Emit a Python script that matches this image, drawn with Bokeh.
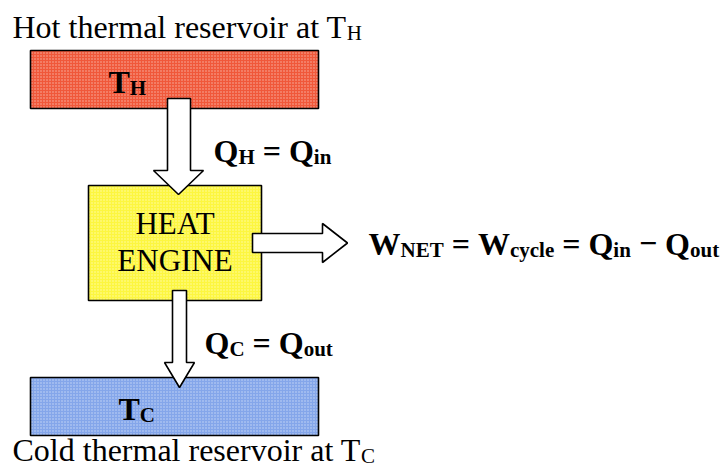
from bokeh.plotting import figure
from bokeh.models import Range1d
from bokeh.core.properties import value
from bokeh.embed import file_html
from bokeh.resources import INLINE

# ---- content ----
hot_title = [("Hot thermal reservoir at T", "n", 0), ("H", "ns", 0)]
cold_title = [("Cold thermal reservoir at T", "n", 0), ("C", "ns", 0)]
hot_label = [("T", "b", 0), ("H", "bs", 0)]
cold_label = [("T", "b", 0), ("C", "bs", 0)]
engine_lines = ["HEAT", "ENGINE"]
qh_label = [("Q", "b", 0), ("H", "bs", 0), (" = ", "b", 0), ("Q", "b", 0), ("in", "bs", 0)]
qc_label = [("Q", "b", 0), ("C", "bs", 0), (" = ", "b", 0), ("Q", "b", 0), ("out", "bs", 0)]
w_label = [("W", "b", 0), ("NET", "bs", 0), (" = ", "b", 0), ("W", "b", 0), ("cycle", "bs", 0),
           (" = ", "b", 0), ("Q", "b", 0), ("in", "bs", 0), (" \u2212 ", "b", 0), ("Q", "b", 0), ("out", "bs", 0)]

# ---- layout (image pixel coordinates) ----
hot_box = dict(left=30, right=318, top=50, bottom=108)
engine_box = dict(left=88, right=261, top=185, bottom=300)
cold_box = dict(left=30, right=318, top=377, bottom=435)

arrow_in_x = [167, 190, 190, 203, 178, 153, 167]
arrow_in_y = [98, 98, 170, 170, 194, 170, 170]
arrow_w_x = [252, 322, 322, 347, 322, 322, 252]
arrow_w_y = [233, 233, 223, 242.5, 262, 252, 252]
arrow_out_x = [172, 186, 186, 194, 179, 164, 172]
arrow_out_y = [290, 290, 362, 362, 387, 362, 362]

FONT = "Liberation Serif"
MAIN = 32
SUB = 21
SUB_DY = 3
BASE_FIX = 0.31  # upward correction of the rendered baseline, fraction of font size

W_REG = {' ': 250, 'H': 722, 'o': 500, 't': 278, 'h': 500, 'e': 444, 'r': 333, 'm': 778,
         'a': 444, 'l': 278, 's': 389, 'v': 500, 'i': 278, 'C': 667, 'd': 500, 'T': 611,
         'E': 611, 'A': 722, 'N': 722, 'G': 722, 'I': 333}
W_BOLD = {' ': 250, 'Q': 778, 'H': 778, '=': 570, 'i': 278, 'n': 556, 'W': 1000, 'N': 722,
          'E': 667, 'T': 667, 'c': 444, 'y': 500, 'l': 278, 'e': 444, '\u2212': 570,
          'o': 500, 'u': 556, 't': 333, 'C': 722}


def text_width(s, size, bold):
    table = W_BOLD if bold else W_REG
    return sum(table.get(ch, 500) for ch in s) * size / 1000.0


p = figure(width=720, height=469, x_range=Range1d(0, 720), y_range=Range1d(469, 0),
           output_backend="svg", toolbar_location=None, min_border=0,
           x_axis_location=None, y_axis_location=None)
p.grid.visible = False
p.outline_line_color = None
p.background_fill_color = "white"
p.border_fill_color = "white"


def box(b, color):
    p.quad(left=[b["left"]], right=[b["right"]], top=[b["top"]], bottom=[b["bottom"]],
           fill_color=color, line_color="black", line_width=1.6,
           hatch_pattern="dot", hatch_color="white", hatch_alpha=0.55, hatch_scale=3,
           hatch_weight=1)


box(hot_box, "#f0583a")
box(engine_box, "#fcf640")
box(cold_box, "#84a6ea")

for xs, ys in [(arrow_in_x, arrow_in_y), (arrow_w_x, arrow_w_y), (arrow_out_x, arrow_out_y)]:
    p.patch(x=xs, y=ys, fill_color="white", line_color="black", line_width=1.6)


def put_text(x, y, txt, size, bold, align="left"):
    p.text(x=[x], y=[y - BASE_FIX * size], text=[txt],
           text_font=value(FONT), text_font_size=f"{size}px",
           text_font_style="bold" if bold else "normal",
           text_baseline="alphabetic", text_align=align, text_color="black")


def draw_runs(runs, x0, y0):
    x = x0
    for txt, kind, _ in runs:
        bold = kind.startswith("b")
        sub = kind.endswith("s")
        size = SUB if sub else MAIN
        lead = len(txt) - len(txt.lstrip(" "))
        core = txt.strip(" ")
        xx = x + text_width(" " * lead, size, bold)
        put_text(xx, y0 + (SUB_DY if sub else 0), core, size, bold)
        x += text_width(txt, size, bold)


draw_runs(hot_title, 12, 36)
draw_runs(cold_title, 12, 459)
draw_runs(hot_label, 108, 91)
draw_runs(cold_label, 118, 418)
draw_runs(qh_label, 213, 160)
draw_runs(qc_label, 204, 352)
draw_runs(w_label, 368, 253)

cx = (engine_box["left"] + engine_box["right"]) / 2
for line, yb in zip(engine_lines, [233, 270]):
    put_text(cx, yb, line, 31, False, align="center")

open("out.html", "w").write(file_html(p, INLINE))
